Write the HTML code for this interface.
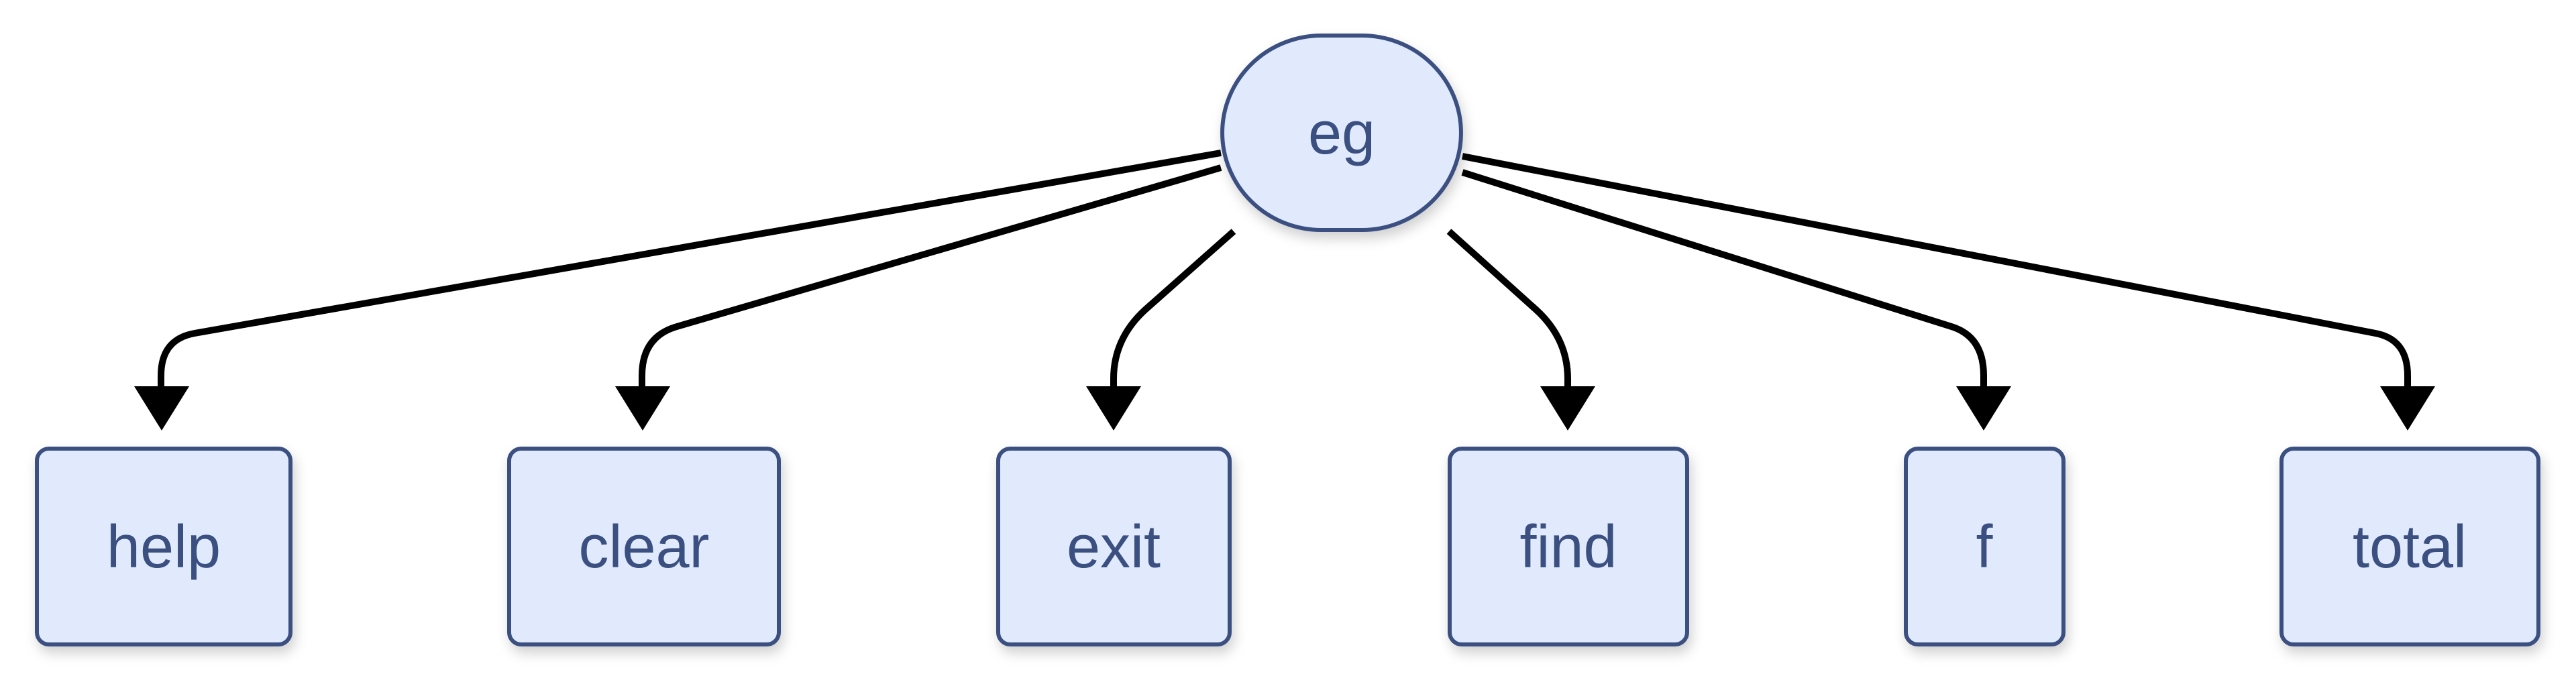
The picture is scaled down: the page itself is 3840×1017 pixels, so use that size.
<!DOCTYPE html>
<html><head><meta charset="utf-8"><style>
html,body{margin:0;padding:0;background:#fff;}
svg{display:block;}
text{font-family:"Liberation Sans",Arial,sans-serif;font-size:90px;fill:#3b5080;}
</style></head><body>
<svg width="3840" height="1017" viewBox="0 0 3840 1017" xmlns="http://www.w3.org/2000/svg">
<defs>
<filter id="sh" x="-20%" y="-20%" width="140%" height="140%">
<feDropShadow dx="4" dy="10" stdDeviation="9" flood-color="#000" flood-opacity="0.18"/>
</filter>
</defs>
<g fill="none" stroke="#000" stroke-width="10">
<path d="M1820 228 L290 497 Q240 506 240 560 L240 580"/>
<path d="M1820 250 L1009 487 Q957 502 957 560 L957 580"/>
<path d="M1839 345 L1707 462 Q1660 505 1660 565 L1660 580"/>
<path d="M2160 345 L2290 462 Q2337 505 2337 565 L2337 580"/>
<path d="M2180 257 L2909 487 Q2957 502 2957 560 L2957 580"/>
<path d="M2180 233 L3541 497 Q3589 506 3589 560 L3589 580"/>
</g>
<g fill="#000">
<polygon points="200,576 282,576 241,642"/>
<polygon points="917,576 999,576 958,642"/>
<polygon points="1619,576 1701,576 1660,642"/>
<polygon points="2296,576 2378,576 2337,642"/>
<polygon points="2916,576 2998,576 2957,642"/>
<polygon points="3548,576 3630,576 3589,642"/>
</g>
<g fill="#e0eafc" stroke="#3b5080" stroke-width="6" filter="url(#sh)">
<path d="M1970 53 L2030 53 A148 145 0 0 1 2030 343 L1970 343 A148 145 0 0 1 1970 53 Z"/>
<rect x="55" y="669" width="378" height="292" rx="18"/>
<rect x="759" y="669" width="402" height="292" rx="18"/>
<rect x="1488" y="669" width="345" height="292" rx="18"/>
<rect x="2161" y="669" width="354" height="292" rx="18"/>
<rect x="2841" y="669" width="235" height="292" rx="18"/>
<rect x="3401" y="669" width="383" height="292" rx="18"/>
</g>
<g text-anchor="middle">
<text x="2000" y="229">eg</text>
<text x="244" y="846">help</text>
<text x="960" y="846">clear</text>
<text x="1660" y="846">exit</text>
<text x="2338" y="846">find</text>
<text x="2958" y="846">f</text>
<text x="3592" y="846">total</text>
</g>
</svg>
</body></html>
